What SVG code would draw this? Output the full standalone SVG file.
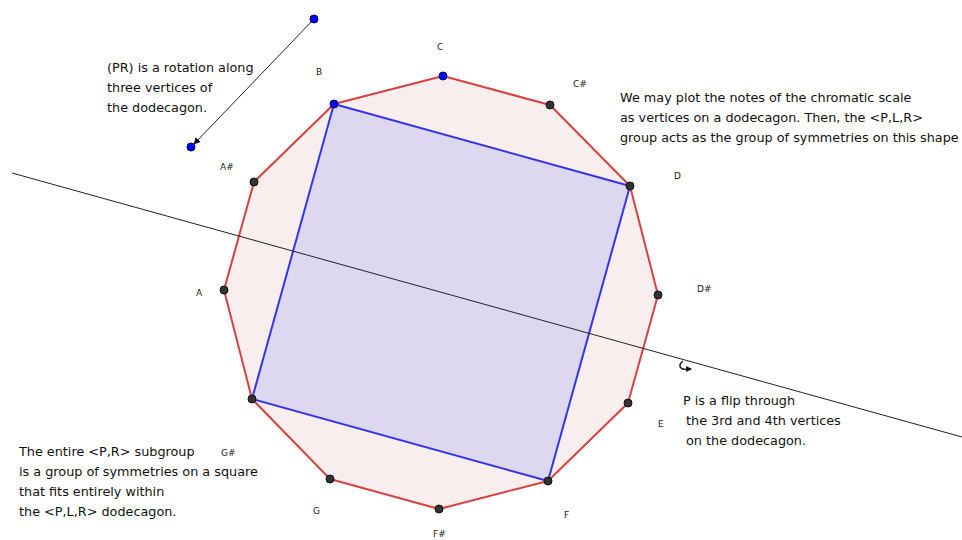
<svg xmlns="http://www.w3.org/2000/svg" width="962" height="540" viewBox="0 0 962 540">
<style>
.lbl{font-family:"DejaVu Sans",sans-serif;font-size:9px;fill:#222}
.txt{font-family:"DejaVu Sans",sans-serif;font-size:12.8px;fill:#111}
.pt{fill:#333;stroke:#111;stroke-width:1}
.bpt{fill:#0000ff;stroke:#000066;stroke-width:1}
</style>
<defs>
<marker id="ah" viewBox="0 0 10 10" refX="9" refY="5" markerWidth="7" markerHeight="7" orient="auto" markerUnits="userSpaceOnUse">
<path d="M0,0 L10,5 L0,10 z" fill="#111"/>
</marker>
<marker id="ah2" viewBox="0 0 10 10" refX="8" refY="5" markerWidth="6" markerHeight="6" orient="auto" markerUnits="userSpaceOnUse">
<path d="M0,0 L10,5 L0,10 z" fill="#111"/>
</marker>
</defs>
<rect width="962" height="540" fill="#fff"/>
<g id="dodecagon">
<polygon points="443,76 550,105 630,186 658,295 628,403 548,481 439,509 330,479 252,399 224,290 254,182 334,104" fill="#f9eeee" stroke="#d94040" stroke-width="2" stroke-linejoin="round"/>
</g>
<g id="square">
<polygon points="334,104 630,186 548,481 252,399" fill="#ddd8ef" stroke="#3333ee" stroke-width="2" stroke-linejoin="round"/>
</g>
<g id="connectors">
<line id="mirror" x1="12" y1="173" x2="962" y2="437" stroke="#222" stroke-width="1"/>
<line id="rotation" x1="314" y1="19" x2="194" y2="144" stroke="#222" stroke-width="1" marker-end="url(#ah)"/>
<path id="flip" d="M683,361 Q678,365 681,368 Q683,370 689,369 L691,369" fill="none" stroke="#111" stroke-width="1.4" marker-end="url(#ah2)"/>
</g>
<g id="vertices">
<g id="v-C"><circle class="bpt" cx="443" cy="76" r="4"/><text class="lbl" x="437" y="50">C</text></g>
<g id="v-Cs"><circle class="pt" cx="550" cy="105" r="4"/><text class="lbl" x="573" y="87">C#</text></g>
<g id="v-D"><circle class="pt" cx="630" cy="186" r="4"/><text class="lbl" x="674" y="179">D</text></g>
<g id="v-Ds"><circle class="pt" cx="658" cy="295" r="4"/><text class="lbl" x="697" y="292">D#</text></g>
<g id="v-E"><circle class="pt" cx="628" cy="403" r="4"/><text class="lbl" x="658" y="427">E</text></g>
<g id="v-F"><circle class="pt" cx="548" cy="481" r="4"/><text class="lbl" x="564" y="518">F</text></g>
<g id="v-Fs"><circle class="pt" cx="439" cy="509" r="4"/><text class="lbl" x="433" y="537">F#</text></g>
<g id="v-G"><circle class="pt" cx="330" cy="479" r="4"/><text class="lbl" x="313" y="514">G</text></g>
<g id="v-Gs"><circle class="pt" cx="252" cy="399" r="4"/><text class="lbl" x="221" y="456">G#</text></g>
<g id="v-A"><circle class="pt" cx="224" cy="290" r="4"/><text class="lbl" x="196" y="296">A</text></g>
<g id="v-As"><circle class="pt" cx="254" cy="182" r="4"/><text class="lbl" x="220" y="170">A#</text></g>
<g id="v-B"><circle class="bpt" cx="334" cy="104" r="4"/><text class="lbl" x="316" y="75">B</text></g>
</g>
<g id="rot-ends">
<circle class="bpt" cx="314" cy="19" r="4"/>
<circle class="bpt" cx="191" cy="147" r="4"/>
</g>
<g id="note-rotation">
<text class="txt" x="107" y="72">(PR) is a rotation along</text>
<text class="txt" x="107" y="92">three vertices of</text>
<text class="txt" x="107" y="112">the dodecagon.</text>
</g>
<g id="note-chromatic">
<text class="txt" x="620" y="102">We may plot the notes of the chromatic scale</text>
<text class="txt" x="620" y="122">as vertices on a dodecagon. Then, the &lt;P,L,R&gt;</text>
<text class="txt" x="620" y="142">group acts as the group of symmetries on this shape</text>
</g>
<g id="note-flip">
<text class="txt" x="683" y="405">P is a flip through</text>
<text class="txt" x="686" y="425">the 3rd and 4th vertices</text>
<text class="txt" x="686" y="445">on the dodecagon.</text>
</g>
<g id="note-subgroup">
<text class="txt" x="19" y="456">The entire &lt;P,R&gt; subgroup</text>
<text class="txt" x="19" y="476">is a group of symmetries on a square</text>
<text class="txt" x="19" y="496">that fits entirely within</text>
<text class="txt" x="19" y="516">the &lt;P,L,R&gt; dodecagon.</text>
</g>
</svg>
